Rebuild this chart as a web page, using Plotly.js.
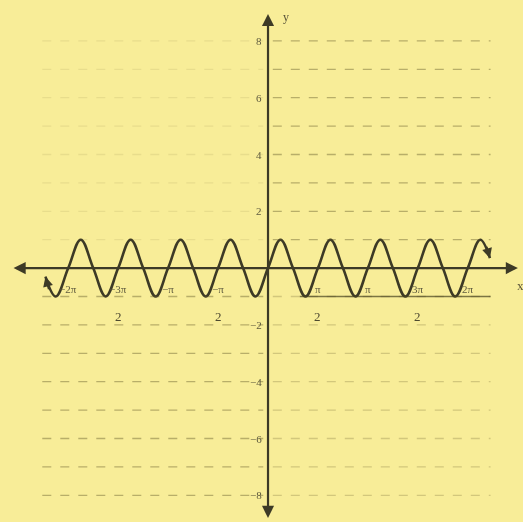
<!DOCTYPE html>
<html>
<head>
<meta charset="utf-8">
<script src="https://cdn.plot.ly/plotly-3.0.1.min.js"></script>
<style>
  html, body { margin: 0; padding: 0; background: #f8ed98; }
  #graph { width: 523px; height: 522px; filter: blur(0.5px); }
</style>
</head>
<body>
<div id="graph"></div>
<script>
// y = sin(4x): crossings, peaks and troughs every pi/8
const curveX = [-7.00, -6.676, -6.283, -5.890, -5.498, -5.105, -4.712, -4.320, -3.927,
  -3.534, -3.142, -2.749, -2.356, -1.963, -1.571, -1.178, -0.785, -0.393, 0,
  0.393, 0.785, 1.178, 1.571, 1.963, 2.356, 2.749, 3.142, 3.534, 3.927,
  4.320, 4.712, 5.105, 5.498, 5.890, 6.283, 6.676, 6.98];
const curveY = [-0.3, -1, 0, 1, 0, -1, 0, 1, 0,
  -1, 0, 1, 0, -1, 0, 1, 0, -1, 0,
  1, 0, -1, 0, 1, 0, -1, 0, 1, 0,
  -1, 0, 1, 0, -1, 0, 1, 0.35];

// y-axis tick labels
const yTickVals = [8, 6, 4, 2, -2, -4, -6, -8];
const yTickText = ['8', '6', '4', '2', '\u22122', '\u22124', '\u22126', '\u22128'];

// x-axis tick labels (numerator / denominator)
const xTickVals = [-2 * Math.PI, -1.5 * Math.PI, -Math.PI, -0.5 * Math.PI,
  0.5 * Math.PI, Math.PI, 1.5 * Math.PI, 2 * Math.PI];
const xTickNum = ['\u22122\u03c0', '\u22123\u03c0', '\u2212\u03c0', '\u2212\u03c0',
  '\u03c0', '\u03c0', '3\u03c0', '2\u03c0'];
const xTickDen = ['', '2', '', '2', '2', '', '2', ''];

// ruled lines of the paper
const gridLevels = [8, 7, 6, 5, 4, 3, 2, 1, -1, -2, -3, -4, -5, -6, -7, -8];

const ink = '#3d3a26';
const shapes = [];
gridLevels.forEach(v => {
  const upper = v > 0;
  // right half
  shapes.push({
    type: 'line', xref: 'x', yref: 'y', x0: 0.15, x1: 7.0, y0: v, y1: v,
    line: { color: upper ? 'rgba(95,88,40,0.42)' : 'rgba(95,88,40,0.25)', width: 1.3, dash: 'dash' }
  });
  // left half
  shapes.push({
    type: 'line', xref: 'x', yref: 'y', x0: -7.1, x1: -0.15, y0: v, y1: v,
    line: { color: upper ? 'rgba(95,88,40,0.10)' : 'rgba(95,88,40,0.42)', width: 1.3, dash: 'dash' }
  });
});
// the trough guide line on the right
shapes.push({
  type: 'line', xref: 'x', yref: 'y', x0: 1.0, x1: 7.0, y0: -1, y1: -1,
  line: { color: 'rgba(70,65,30,0.7)', width: 1.6 }
});

const annotations = [];
// axes with arrows at both ends
annotations.push({
  xref: 'x', yref: 'y', axref: 'x', ayref: 'y',
  x: 7.86, y: 0, ax: -8.05, ay: 0, text: '', showarrow: true,
  arrowhead: 2, arrowside: 'end+start', arrowsize: 1.1, arrowwidth: 2.2, arrowcolor: ink
});
annotations.push({
  xref: 'x', yref: 'y', axref: 'x', ayref: 'y',
  x: 0, y: 8.95, ax: 0, ay: -8.85, text: '', showarrow: true,
  arrowhead: 2, arrowside: 'end+start', arrowsize: 1.1, arrowwidth: 2.2, arrowcolor: ink
});
// arrows at the curve ends
annotations.push({
  xref: 'x', yref: 'y', axref: 'x', ayref: 'y',
  x: curveX[0], y: curveY[0], ax: -6.88, ay: -0.8, text: '', showarrow: true,
  arrowhead: 2, arrowsize: 1, arrowwidth: 2, arrowcolor: ink
});
annotations.push({
  xref: 'x', yref: 'y', axref: 'x', ayref: 'y',
  x: curveX[curveX.length - 1], y: curveY[curveY.length - 1], ax: 6.86, ay: 0.8, text: '', showarrow: true,
  arrowhead: 2, arrowsize: 1, arrowwidth: 2, arrowcolor: ink
});
// axis names
annotations.push({ xref: 'x', yref: 'y', x: 0.55, y: 8.85, text: 'y', showarrow: false,
  font: { family: 'Liberation Serif', size: 12, color: '#5a553a' } });
annotations.push({ xref: 'x', yref: 'y', x: 7.95, y: -0.6, text: 'x', showarrow: false,
  font: { family: 'Liberation Serif', size: 13, color: '#5a553a' } });

const tickFont = { family: 'Liberation Serif', size: 11, color: '#5e5a3e' };
yTickVals.forEach((v, i) => {
  annotations.push({ xref: 'x', yref: 'y', x: -0.12, y: v, xanchor: 'right', yanchor: 'middle',
    text: yTickText[i], showarrow: false, font: tickFont });
});
xTickVals.forEach((v, i) => {
  annotations.push({ xref: 'x', yref: 'y', x: v, y: -0.75, xanchor: 'center', yanchor: 'middle',
    text: xTickNum[i], showarrow: false, font: tickFont });
  if (xTickDen[i]) {
    annotations.push({ xref: 'x', yref: 'y', x: v, y: -1.72, xanchor: 'center', yanchor: 'middle',
      text: xTickDen[i], showarrow: false, font: { family: 'Liberation Serif', size: 13, color: '#4e4a30' } });
  }
});

const trace = {
  x: curveX, y: curveY, type: 'scatter', mode: 'lines',
  line: { color: ink, width: 2.6, shape: 'spline', smoothing: 1.1 },
  hoverinfo: 'skip'
};

const layout = {
  width: 523, height: 522,
  margin: { l: 0, r: 0, t: 0, b: 0 },
  paper_bgcolor: '#f8ed98', plot_bgcolor: '#f8ed98',
  showlegend: false,
  xaxis: { range: [-8.43, 8.02], visible: false, fixedrange: true },
  yaxis: { range: [-8.94, 9.44], visible: false, fixedrange: true },
  shapes: shapes,
  annotations: annotations
};

Plotly.newPlot('graph', [trace], layout, { displayModeBar: false, staticPlot: true });
</script>
</body>
</html>
